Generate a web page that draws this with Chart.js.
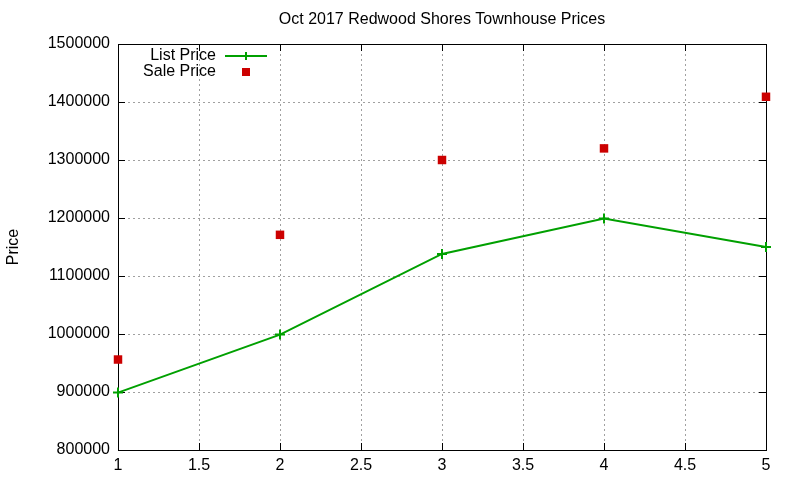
<!DOCTYPE html>
<html>
<head>
<meta charset="utf-8">
<script src="https://cdn.jsdelivr.net/npm/chart.js@4"></script>
<style>
  html, body { margin: 0; padding: 0; background: #fff; }
  #wrap { width: 800px; height: 480px; }
</style>
</head>
<body>
<div id="wrap"><canvas id="chart" width="800" height="480"></canvas></div>
<script>
const houses = [1, 2, 3, 4, 5];
const listPrice = [899000, 999000, 1138000, 1199000, 1150000];
const salePrice = [956000, 1171000, 1300000, 1320000, 1409000];
const xTicks = [1, 1.5, 2, 2.5, 3, 3.5, 4, 4.5, 5];
const yTicks = [800000, 900000, 1000000, 1100000, 1200000, 1300000, 1400000, 1500000];

const green = '#00a000';
const red = '#cc0000';
const font = 'Liberation Sans, Arial, sans-serif';

// gnuplot-ish frame, inward ticks, title and legend
const frame = {
    id: 'frame',
    beforeDatasetsDraw(chart) {
        const ctx = chart.ctx;
        const a = chart.chartArea;
        const xs = chart.scales.x, ys = chart.scales.y;
        ctx.save();
        ctx.strokeStyle = '#000';
        ctx.lineWidth = 1;
        ctx.strokeRect(a.left + 0.5, a.top + 0.5, a.right - a.left, a.bottom - a.top);
        ctx.beginPath();
        xTicks.forEach(v => {
            const px = Math.round(xs.getPixelForValue(v)) + 0.5;
            ctx.moveTo(px, a.bottom); ctx.lineTo(px, a.bottom - 7);
            ctx.moveTo(px, a.top); ctx.lineTo(px, a.top + 7);
        });
        yTicks.forEach(v => {
            const py = Math.round(ys.getPixelForValue(v)) + 0.5;
            ctx.moveTo(a.left, py); ctx.lineTo(a.left + 7, py);
            ctx.moveTo(a.right, py); ctx.lineTo(a.right - 7, py);
        });
        ctx.stroke();

        ctx.fillStyle = '#000';
        ctx.font = '16px ' + font;
        ctx.textAlign = 'center';
        ctx.textBaseline = 'middle';
        ctx.fillText('Oct 2017 Redwood Shores Townhouse Prices', (a.left + a.right) / 2, 20);

        // legend
        ctx.textAlign = 'right';
        ctx.fillText('List Price', 216, 56);
        ctx.fillText('Sale Price', 216, 72);
        ctx.strokeStyle = green;
        ctx.lineWidth = 2;
        ctx.beginPath();
        ctx.moveTo(225, 56); ctx.lineTo(267, 56);
        ctx.moveTo(246, 52); ctx.lineTo(246, 60);
        ctx.stroke();
        ctx.fillStyle = red;
        ctx.fillRect(242, 68, 8, 8);
        ctx.restore();
    }
};

new Chart(document.getElementById('chart').getContext('2d'), {
    type: 'line',
    data: {
        labels: houses,
        datasets: [{
            label: 'List Price',
            data: houses.map((h, i) => ({ x: h, y: listPrice[i] })),
            borderColor: green,
            backgroundColor: green,
            borderWidth: 2,
            pointStyle: 'cross',
            pointRadius: 5,
            pointBorderWidth: 2,
            tension: 0,
            clip: false
        }, {
            label: 'Sale Price',
            data: houses.map((h, i) => ({ x: h, y: salePrice[i] })),
            showLine: false,
            borderColor: red,
            backgroundColor: red,
            pointStyle: 'rect',
            pointRadius: 6,
            pointBorderWidth: 0,
            clip: false
        }]
    },
    plugins: [frame],
    options: {
        responsive: false,
        animation: false,
        layout: { padding: { left: 0, top: 44, right: 34, bottom: 0 } },
        plugins: {
            legend: { display: false },
            title: { display: false },
            tooltip: { enabled: false }
        },
        scales: {
            x: {
                type: 'linear',
                min: 1,
                max: 5,
                afterFit(s) { s.height = 30; },
                afterBuildTicks(s) { s.ticks = xTicks.map(v => ({ value: v })); },
                border: { display: false, dash: [2, 3] },
                grid: { color: '#a0a0a0', drawTicks: false, lineWidth: 1 },
                ticks: { color: '#000', font: { family: font, size: 16 }, padding: 6, callback: v => String(v) }
            },
            y: {
                min: 800000,
                max: 1500000,
                afterFit(s) { s.width = 118; },
                afterBuildTicks(s) { s.ticks = yTicks.map(v => ({ value: v })); },
                border: { display: false, dash: [2, 3] },
                grid: { color: '#a0a0a0', drawTicks: false, lineWidth: 1 },
                ticks: { color: '#000', font: { family: font, size: 16 }, padding: 8, callback: v => String(v) },
                title: { display: true, text: 'Price', color: '#000', font: { family: font, size: 16 }, padding: { top: 4, bottom: 0 } }
            }
        }
    }
});
</script>
</body>
</html>
